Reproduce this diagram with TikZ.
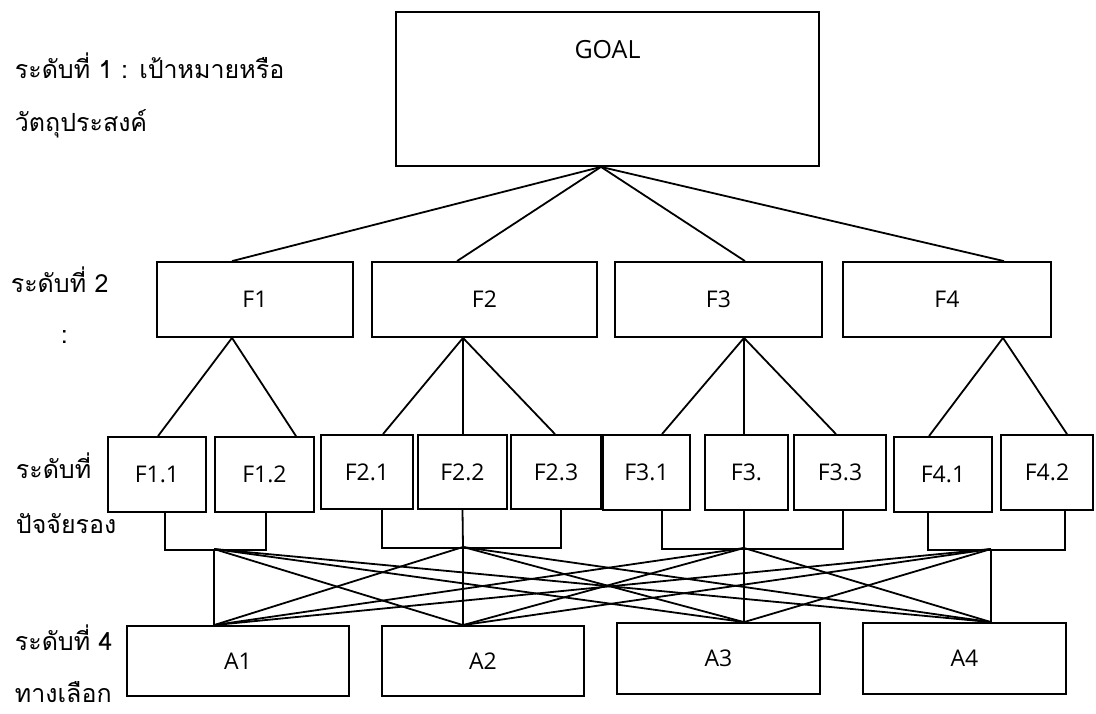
\documentclass[tikz,border=0pt]{standalone}
\usepackage{fontspec}
\setmainfont{Open Sans}
\newfontfamily\thaifont[Script=Thai]{Loma}

\begin{document}
\begin{tikzpicture}[x=1pt, y=-1pt, line width=1.8pt,
    box/.style={draw, rectangle, inner sep=0pt, font=\fontsize{23}{27}\selectfont},
    lvl/.style={anchor=base west, inner sep=0pt, font=\thaifont\fontsize{25}{29}\selectfont}]
    \useasboundingbox (0,0) rectangle (1096,713);

    % Level 1
    \node[box, minimum width=423pt, minimum height=154pt,
        label={[anchor=center, yshift=-38pt, font=\fontsize{25}{29}\selectfont]north:GOAL}] (goal) at (607.5,89) {};

    % Level 2
    \node[box, minimum width=196pt, minimum height=75pt] (f1) at (255,299.5) {F1};
    \node[box, minimum width=225pt, minimum height=75pt] (f2) at (484.5,299.5) {F2};
    \node[box, minimum width=207pt, minimum height=75pt] (f3) at (718.5,299.5) {F3};
    \node[box, minimum width=208pt, minimum height=75pt] (f4) at (947,299.5) {F4};

    % Level 3
    \node[box, minimum width=98pt, minimum height=75pt] (f11) at (157,474.5) {F1.1};
    \node[box, minimum width=99pt, minimum height=75pt] (f12) at (264.5,474.5) {F1.2};
    \node[box, minimum width=92pt, minimum height=74pt] (f21) at (367,472) {F2.1};
    \node[box, minimum width=89pt, minimum height=74pt] (f22) at (462.5,472) {F2.2};
    \node[box, minimum width=90pt, minimum height=74pt] (f23) at (556,472) {F2.3};
    \node[box, minimum width=87pt, minimum height=75pt] (f31) at (646.5,472.5) {F3.1};
    \node[box, minimum width=83pt, minimum height=75pt] (f32) at (746.5,472.5) {F3.};
    \node[box, minimum width=92pt, minimum height=75pt] (f33) at (840,472.5) {F3.3};
    \node[box, minimum width=98pt, minimum height=75pt] (f41) at (943,474.5) {F4.1};
    \node[box, minimum width=92pt, minimum height=75pt] (f42) at (1047,472.5) {F4.2};

    % Level 4
    \node[box, minimum width=222pt, minimum height=70pt] (a1) at (238,661) {A1};
    \node[box, minimum width=202pt, minimum height=70pt] (a2) at (483,661) {A2};
    \node[box, minimum width=203pt, minimum height=71pt] (a3) at (718.5,658.5) {A3};
    \node[box, minimum width=203pt, minimum height=71pt] (a4) at (964.5,658.5) {A4};

    % Joints
    \coordinate (j1) at (214,549);
    \coordinate (j2) at (463,547);
    \coordinate (j3) at (744,548);
    \coordinate (j4) at (991,549);
    \coordinate (b1) at ([xshift=-24pt]a1.north);
    \coordinate (b2) at ([xshift=-20pt]a2.north);
    \coordinate (b3) at ([xshift=25.5pt]a3.north);
    \coordinate (b4) at ([xshift=26.5pt]a4.north);

    % Goal to level 2
    \foreach \n/\s in {f1/-23, f2/-27.5, f3/26.5, f4/57}
        \draw ([xshift=-6.5pt]goal.south) -- ([xshift=\s pt]\n.north);

    % Level 2 to level 3
    \foreach \n/\s in {f11/1, f12/31.5}
        \draw ([xshift=-23pt]f1.south) -- ([xshift=\s pt]\n.north);
    \foreach \n/\s in {f21/16, f22/0.5, f23/-1}
        \draw ([xshift=-21.5pt]f2.south) -- ([xshift=\s pt]\n.north);
    \foreach \n/\s in {f31/15.5, f32/-2.5, f33/-4}
        \draw ([xshift=25.5pt]f3.south) -- ([xshift=\s pt]\n.north);
    \foreach \n/\s in {f41/-14, f42/20}
        \draw ([xshift=56pt]f4.south) -- ([xshift=\s pt]\n.north);

    % Brackets
    \draw ([xshift=8pt]f11.south) -- ++(0,37) -| ([xshift=1.5pt]f12.south);
    \draw ([xshift=15pt]f21.south) -- ++(0,38) -| ([xshift=5pt]f23.south);
    \draw ([xshift=15.5pt]f31.south) -- ++(0,38) -| ([xshift=3pt]f33.south);
    \draw ([xshift=-15pt]f41.south) -- ++(0,37) -| ([xshift=18pt]f42.south);
    \draw (f22.south) -- (j2);
    \draw ([xshift=-2.5pt]f32.south) -- (j3);

    % Level 3 to level 4
    \foreach \i in {1,...,4}
        \foreach \j in {1,...,4}
            \draw (j\i) -- (b\j);

    % Labels
    \node[lvl] (l1a) at (14,78) {ระดับที่ 1 : เป้าหมายหรือ};
    \node[lvl] (l1b) at (14,131) {วัตถุประสงค์};
    \node[lvl] (l2a) at (10,292) {ระดับที่ 2};
    \node[lvl] (l2b) at (60,343) {:};
    \node[lvl] (l3a) at (15,478) {ระดับที่};
    \node[lvl] (l3b) at (15,533) {ปัจจัยรอง};
    \node[lvl] (l4a) at (14,650) {ระดับที่ 4};
    \node[lvl] (l4b) at (14,702) {ทางเลือก};
\end{tikzpicture}
\end{document}
